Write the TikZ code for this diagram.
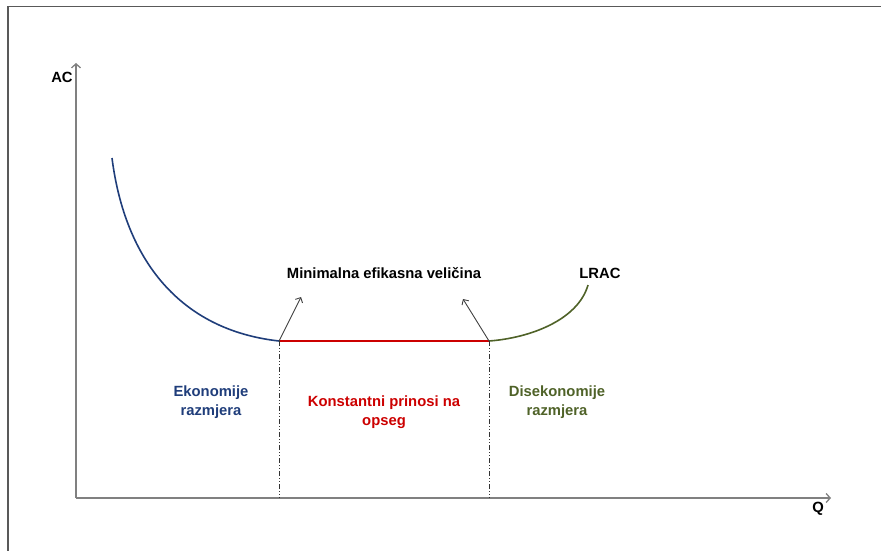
\documentclass[tikz,border=0pt]{standalone}
\usepackage{fontspec}
\setmainfont{Liberation Sans}
\usetikzlibrary{arrows.meta}
\definecolor{ekblue}{HTML}{1F3D7A}
\definecolor{kored}{HTML}{CC0000}
\definecolor{disgreen}{HTML}{4F6228}
\begin{document}
\begin{tikzpicture}[x=1pt,y=-1pt,
  lbl/.style={font=\fontsize{14.8}{19}\selectfont\bfseries, align=center},
  osa/.style={draw=gray, line width=1.3pt, -{Straight Barb[length=4pt,width=9pt]}}]
\useasboundingbox (0,0) rectangle (881,551);
\draw[gray!70!black, line width=1.4pt] (8,551)--(8,6.5)--(881,6.5);
\coordinate (O) at (76,498);
\coordinate (Y) at (76,63);
\coordinate (X) at (831,498);
\coordinate (P) at (112,158);
\coordinate (A) at (279,341);
\coordinate (B) at (489,341);
\coordinate (K) at (588,285);
\coordinate (A1) at (279,498);
\coordinate (B1) at (489,498);
\coordinate (SA) at (301,297);
\coordinate (SB) at (463,299);
\draw[osa] (O)--(Y);
\draw[osa] (O)--(X);
%krivulja LRAC
\draw[ekblue, line width=1.6pt] (P) .. controls (125,260) and (180,330) .. (A);
\draw[kored, line width=1.6pt] (A)--(B);
\draw[disgreen, line width=1.6pt] (B) .. controls (530,338) and (578,320) .. (K);
%isprekidane linije
\draw[black!80, dash pattern=on 5pt off 2pt on 1pt off 2pt on 1pt off 2pt] (A)--(A1);
\draw[black!80, dash pattern=on 5pt off 2pt on 1pt off 2pt on 1pt off 2pt] (B)--(B1);
\draw[black!75, line width=0.9pt, -{Straight Barb[length=4pt,width=8pt]}] (A)--(SA);
\draw[black!75, line width=0.9pt, -{Straight Barb[length=4pt,width=8pt]}] (B)--(SB);
\node[lbl] (ac) at (62,77) {AC};
\node[lbl] (q) at (818,509) {Q};
\node[lbl] (mev) at (384,273) {Minimalna efikasna veličina};
\node[lbl] (lrac) at (600,273) {LRAC};
\node[lbl, ekblue] (ek) at (211,402) {Ekonomije\\razmjera};
\node[lbl, kored] (kp) at (384,412) {Konstantni prinosi na\\opseg};
\node[lbl, disgreen] (dis) at (557,402) {Disekonomije\\razmjera};
\end{tikzpicture}
\end{document}
